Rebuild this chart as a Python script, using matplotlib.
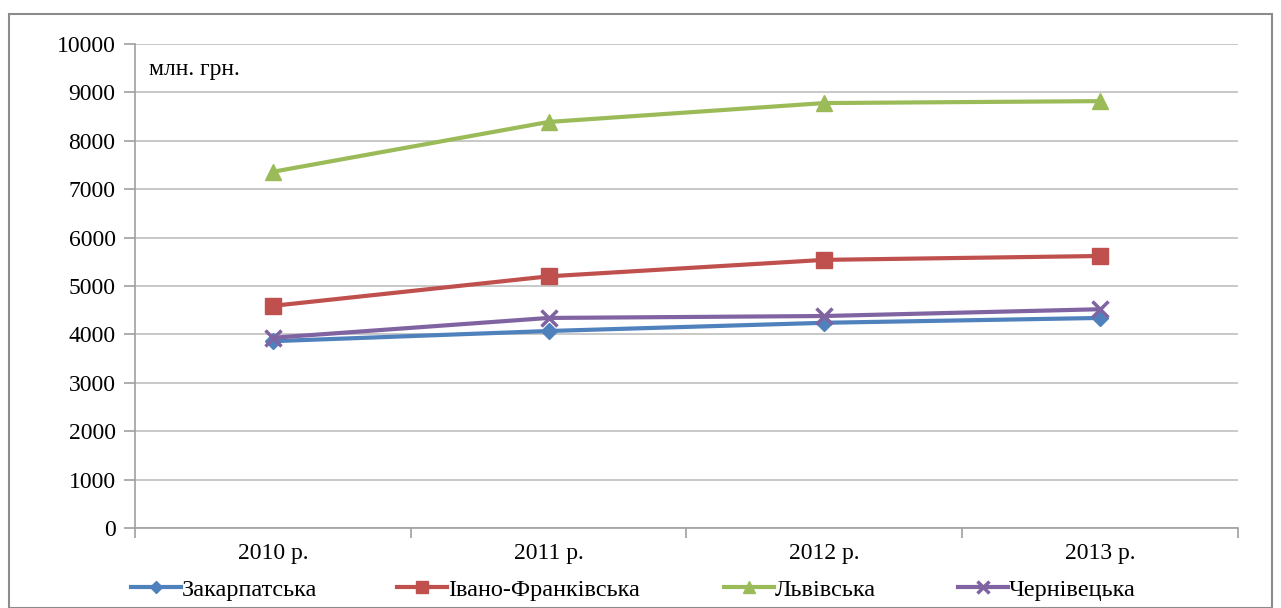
import matplotlib
matplotlib.use("Agg")
import matplotlib.pyplot as plt
import matplotlib.patches as patches

years = ["2010 р.", "2011 р.", "2012 р.", "2013 р."]
regions = ["Закарпатська", "Івано-Франківська", "Львівська", "Чернівецька"]

zakarpatska = [3860, 4070, 4240, 4340]
ivano_frankivska = [4590, 5200, 5540, 5620]
lvivska = [7360, 8390, 8780, 8820]
chernivetska = [3930, 4340, 4380, 4520]

colors = ["#4F81BD", "#C0504D", "#9BBB59", "#8064A2"]
markers = ["D", "s", "^", "x"]
msizes = [8, 11, 12, 11]

plt.rcParams['font.family'] = ['Liberation Serif', 'DejaVu Serif']

fig = plt.figure(figsize=(12.81, 6.08), dpi=100)
ax = fig.add_axes([0.1054, 0.1316, 0.861, 0.796])

# gray frame around the whole chart
fig.patches.append(patches.Rectangle((0.007, 0.0), 0.986, 0.977, transform=fig.transFigure,
                                     fill=False, edgecolor="#8c8c8c", linewidth=1.5))

xs = [0.5, 1.5, 2.5, 3.5]
series = [zakarpatska, ivano_frankivska, lvivska, chernivetska]
lines = []
for vals, name, c, m, ms in zip(series, regions, colors, markers, msizes):
    ln, = ax.plot(xs, vals, color=c, linewidth=3, marker=m, markersize=ms,
                  markeredgewidth=2.5 if m == "x" else 1, label=name)
    lines.append(ln)

ax.set_xlim(0, 4)
ax.set_ylim(0, 10000)
ax.set_yticks(range(0, 10001, 1000))
ax.set_xticks([0, 1, 2, 3, 4])
ax.set_xticklabels([])
ax.set_xticks(xs, minor=True)
ax.set_xticklabels(years, minor=True, fontsize=17)
ax.tick_params(axis="x", which="minor", length=0, pad=11)
ax.tick_params(axis="x", which="major", length=7, color="#a0a0a0", width=1.2)
ax.tick_params(axis="y", length=8, color="#a0a0a0", width=1.2, labelsize=17, pad=6)

ax.grid(axis="y", color="#bfbfbf", linewidth=1.2)
ax.set_axisbelow(True)
for s in ["top", "right"]:
    ax.spines[s].set_visible(False)
for s in ["left", "bottom"]:
    ax.spines[s].set_color("#a0a0a0")
    ax.spines[s].set_linewidth(1.2)

ax.text(0.013, 0.97, "млн. грн.", transform=ax.transAxes, fontsize=17, va="top")

# legend entries sit at uneven positions along the bottom
legend_x = [131, 397, 724, 958]
for ln, name, lx in zip(lines, regions, legend_x):
    fig.legend([ln], [name], loc="center left", bbox_to_anchor=(lx / 1281, 0.03),
               frameon=False, fontsize=17.5, handlelength=2.05, handletextpad=0.05,
               borderpad=0, borderaxespad=0, markerscale=0.75)

fig.savefig("out.png", dpi=100)
